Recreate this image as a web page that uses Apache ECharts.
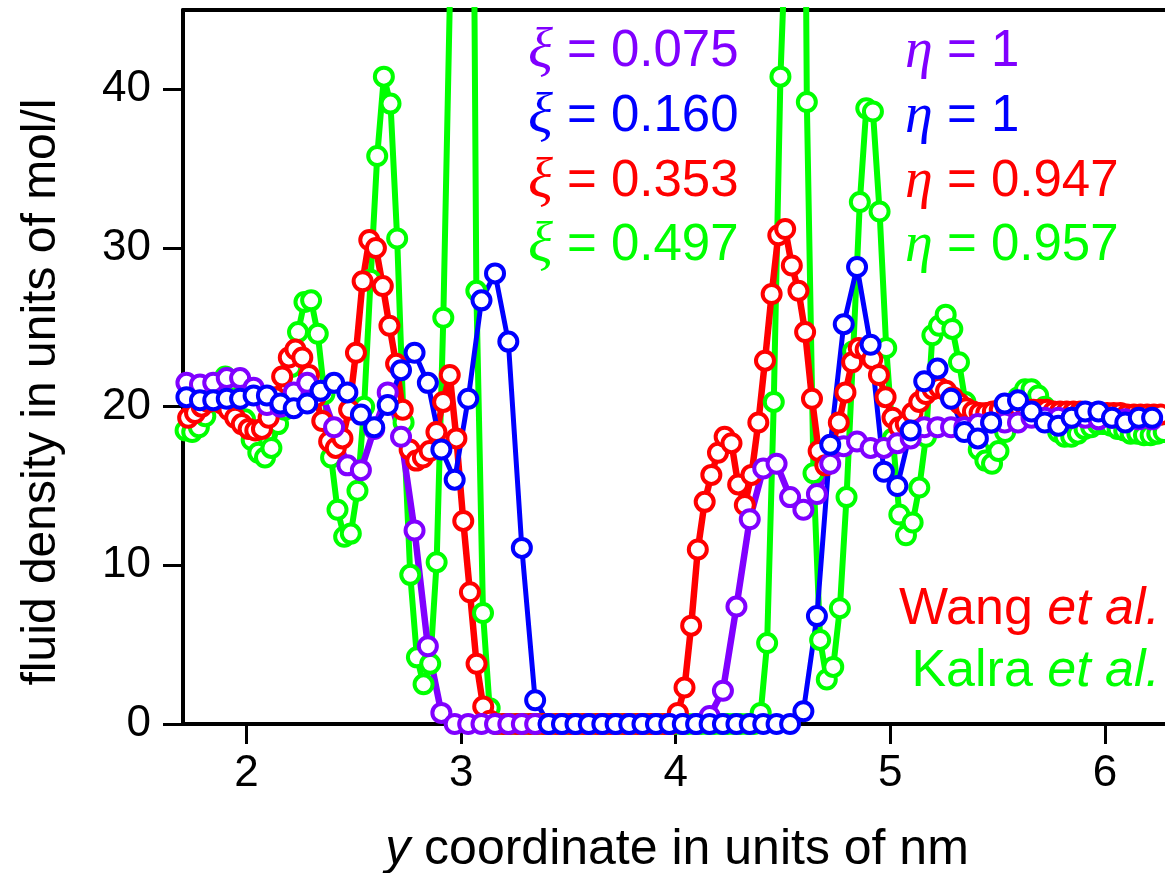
<!DOCTYPE html>
<html><head><meta charset="utf-8">
<script src="https://cdn.jsdelivr.net/npm/echarts@6/dist/echarts.min.js"></script>
<style>html,body{margin:0;padding:0;background:#fff}#c{width:1165px;height:873px}</style>
</head><body><div id="c"></div>
<script>
// x positions (nm) shared by the xi=0.075 and xi=0.160 series
const xPB = [1.720,1.783,1.845,1.908,1.970,2.033,2.095,2.158,2.220,2.283,2.345,2.408,2.470,2.533,2.595,2.658,2.720,2.783,2.845,2.908,2.970,3.033,3.095,3.158,3.220,3.283,3.345,3.408,3.470,3.533,3.595,3.658,3.720,3.783,3.845,3.908,3.970,4.033,4.095,4.158,4.220,4.283,4.345,4.408,4.470,4.533,4.595,4.658,4.720,4.783,4.845,4.908,4.970,5.033,5.095,5.158,5.220,5.283,5.345,5.408,5.470,5.533,5.595,5.658,5.720,5.783,5.845,5.908,5.970,6.033,6.095,6.158,6.220,6.283];
const yPurple = [21.5,21.4,21.5,21.8,21.8,21.2,20.1,20.0,20.9,21.5,
 21.0,18.7,16.3,16.0,18.6,20.9,18.1,12.2,4.9,0.7,
 0,0,0,0,0,0,0,0,0,0,0,0,0,0,0,0,0,0,0,
 0.5,2.1,7.4,12.9,16.1,16.4,14.3,13.5,14.5,16.4,
 17.5,17.8,17.4,17.4,17.7,18.0,18.7,18.7,18.7,18.7,
 18.9,19.0,19.0,19.0,19.3,19.3,19.3,19.3,19.3,19.2,
 19.3,19.2,19.2,19.2,19.2];
const yBlue = [20.6,20.4,20.4,20.5,20.5,20.7,20.7,20.2,19.9,20.2,
 21.0,21.5,20.9,19.5,18.7,20.1,22.3,23.4,21.5,17.3,
 15.4,20.5,26.7,28.4,24.1,11.1,1.5,0,
 0,0,0,0,0,0,0,0,0,0,0,0,0,0,0,0,0,0,
 0.8,6.8,17.6,25.2,28.8,23.9,15.9,15.0,18.5,21.6,
 22.4,20.5,18.4,18.0,19.0,20.2,20.4,19.7,19.0,18.8,
 19.3,19.7,19.7,19.3,19.0,19.3,19.3,19.3];
const xRed = [1.728,1.760,1.791,1.822,1.853,1.885,1.916,1.947,1.978,2.010,2.041,2.072,2.103,2.135,2.166,2.197,2.228,2.260,2.291,2.322,
 2.353,2.385,2.416,2.447,2.478,2.510,2.541,2.572,2.603,2.635,2.666,2.697,2.728,2.760,2.791,2.822,2.853,2.885,2.916,2.947,
 2.978,3.010,3.041,3.072,3.103,3.135,3.166,3.197,3.228,3.260,3.291,3.322,3.353,3.385,3.416,3.447,3.478,3.510,3.541,3.572,
 3.603,3.635,3.666,3.697,3.728,3.760,3.791,3.822,3.853,3.885,3.916,3.947,3.978,4.010,4.041,4.072,4.103,4.135,4.166,4.197,
 4.228,4.260,4.291,4.322,4.353,4.385,4.416,4.447,4.478,4.510,4.541,4.572,4.603,4.635,4.666,4.697,4.728,4.760,4.791,4.822,
 4.853,4.885,4.916,4.947,4.978,5.010,5.041,5.072,5.103,5.135,5.166,5.197,5.228,5.260,5.291,5.322,5.353,5.385,5.416,5.447,
 5.478,5.510,5.541,5.572,5.603,5.635,5.666,5.697,5.728,5.760,5.791,5.822,5.853,5.885,5.916,5.947,5.978,6.010,6.041,6.072,
 6.103,6.135,6.166,6.197,6.228,6.260,6.291];
const yRed = [19.3,19.6,20.0,20.3,20.5,20.2,19.8,19.3,18.9,18.6,
 18.5,18.6,19.3,20.6,21.9,23.1,23.6,23.1,22.0,20.6,
 19.1,17.8,17.4,18.0,19.8,23.4,27.9,30.5,30.0,27.6,
 25.1,22.7,19.8,17.3,16.6,16.8,17.2,18.4,20.3,22.0,
 18.0,12.8,8.3,3.8,1.1,0.2,
 0,0,0,0,0,0,0,0,0,0,0,0,0,0,0,0,0,0,0,0,0,0,0,0,0,0,0,
 0.7,2.3,6.2,11.0,14.0,15.7,17.1,
 18.1,17.7,15.1,13.8,15.7,19.0,22.9,27.1,30.8,31.2,
 28.9,27.3,24.7,20.5,17.2,16.3,17.6,19.0,20.9,22.8,
 23.7,23.6,23.0,22.0,20.6,19.3,18.7,18.9,19.6,20.3,
 20.8,21.1,21.2,21.0,20.6,20.2,19.9,19.7,19.6,19.6,
 19.7,19.8,19.9,19.9,19.9,19.8,19.8,19.8,19.8,19.7,
 19.7,19.7,19.7,19.7,19.6,19.6,19.6,19.6,19.6,19.6,
 19.5,19.5,19.5,19.5,19.5,19.5,19.5];
const xGreen = [1.716,1.747,1.778,1.808,1.839,1.870,1.901,1.932,1.962,1.993,
 2.024,2.055,2.086,2.116,2.147,2.178,2.209,2.240,2.270,2.301,
 2.332,2.363,2.394,2.424,2.455,2.486,2.517,2.548,2.578,2.609,
 2.640,2.671,2.702,2.732,2.763,2.794,2.825,2.856,2.886,2.917,
 2.948,2.979,3.010,3.040,3.071,3.102,3.133,3.164,3.194,3.225,
 3.256,3.287,3.318,3.348,3.379,3.410,3.441,3.472,3.502,3.533,
 3.564,3.595,3.626,3.656,3.687,3.718,3.749,3.780,3.810,3.841,
 3.872,3.903,3.934,3.964,3.995,4.026,4.057,4.088,4.118,4.149,
 4.180,4.211,4.242,4.272,4.303,4.334,4.365,4.396,4.426,4.457,
 4.488,4.519,4.550,4.580,4.611,4.642,4.673,4.704,4.734,4.765,
 4.796,4.827,4.858,4.888,4.919,4.950,4.981,5.012,5.042,5.073,
 5.104,5.135,5.166,5.196,5.227,5.258,5.289,5.320,5.350,5.381,
 5.412,5.443,5.474,5.504,5.535,5.566,5.597,5.628,5.658,5.689,
 5.720,5.751,5.782,5.812,5.843,5.874,5.905,5.936,5.966,5.997,
 6.028,6.059,6.090,6.120,6.151,6.182,6.213,6.244,6.274];
const yGreen = [18.5,18.4,18.7,19.4,20.6,21.5,21.9,21.6,20.6,19.2,
 17.9,17.1,16.8,17.4,18.9,19.8,22.5,24.7,26.6,26.7,
 24.6,20.8,16.8,13.5,11.8,12.0,14.7,20.0,28.0,35.8,
 40.8,39.1,30.6,19.0,9.4,4.2,2.5,3.8,10.2,25.6,
 46,85,95,90,27.3,7.0,1.0,
 0,0,0,0,0,0,0,0,0,0,0,0,0,0,0,0,0,0,0,0,
 0,0,0,0,0,0,0,0,0,0,0,0,0,0,0,0,0,0,0,0,
 0.7,5.1,20.3,40.8,52,105,100,39.2,15.8,5.3,
 2.8,3.6,7.3,14.3,23.5,32.9,38.8,38.6,32.3,23.7,
 18.0,13.2,11.9,12.7,14.9,18.1,24.5,25.1,25.8,24.9,
 22.8,20.3,18.5,17.3,16.6,16.4,17.2,18.4,19.6,20.6,
 21.1,21.1,20.7,20.0,19.1,18.4,18.1,18.1,18.3,18.6,
 18.7,18.9,18.9,18.8,18.6,18.5,18.3,18.3,18.2,18.2,18.3,18.4];
const xTicks = [2,3,4,5,6];
const yTicks = [0,10,20,30,40];
const xiLabels = ['0.075','0.160','0.353','0.497'];
const etaLabels = ['1','1','0.947','0.957'];
const sourceLabels = ['Wang','Kalra'];
const colors = ['#8000ff','#0000ff','#ff0000','#00ff00'];

const FONT = '"Liberation Sans", Arial, sans-serif';
const zip = (xs, ys) => xs.map((x, i) => [x, ys[i]]);
function mkSeries(data, color, lw) {
  return {
    type: 'line', data: data, symbol: 'circle', symbolSize: 18,
    lineStyle: {color: color, width: lw},
    itemStyle: {color: '#ffffff', borderColor: color, borderWidth: 4},
    emphasis: {disabled: true}, animation: false, clip: true
  };
}
const chart = echarts.init(document.getElementById('c'));
const graphics = [];
const rowY = [52, 117, 182, 246];
xiLabels.forEach((v, i) => {
  graphics.push({type: 'text', x: 528, y: rowY[i], style: {
    text: '{g|ξ}{t| = ' + v + '}', textVerticalAlign: 'middle', textAlign: 'left',
    rich: {g: {font: 'italic 58px "Liberation Serif", serif', fill: colors[i]},
           t: {font: '51px ' + FONT, fill: colors[i]}}}});
});
etaLabels.forEach((v, i) => {
  graphics.push({type: 'text', x: 905, y: rowY[i], style: {
    text: '{g|η}{t| = ' + v + '}', textVerticalAlign: 'middle', textAlign: 'left',
    rich: {g: {font: 'italic 56px "Liberation Serif", serif', fill: colors[i]},
           t: {font: '51px ' + FONT, fill: colors[i]}}}});
});
[['Wang', '#ff0000', 610], ['Kalra', '#00ff00', 672]].forEach(([n, c, y]) => {
  graphics.push({type: 'text', x: 1160, y: y, style: {
    text: '{a|' + n + ' }{b|et al.}', textAlign: 'right', textVerticalAlign: 'middle',
    rich: {a: {font: '52px ' + FONT, fill: c}, b: {font: 'italic 52px ' + FONT, fill: c}}}});
});
graphics.push({type: 'text', x: 677, y: 850, style: {
  text: '{a|y}{b| coordinate in units of nm}', textAlign: 'center', textVerticalAlign: 'middle',
  rich: {a: {font: 'italic 50px ' + FONT, fill: '#000'}, b: {font: '50px ' + FONT, fill: '#000'}}}});
graphics.push({type: 'text', x: 42, y: 392, rotation: Math.PI / 2, style: {
  text: 'fluid density in units of mol/l', textAlign: 'center', textVerticalAlign: 'middle',
  font: '48px ' + FONT, fill: '#000'}});

chart.setOption({
  animation: false,
  grid: {left: 183, top: 10, right: 0, bottom: 149},
  xAxis: [{
    type: 'value', min: 1.704, max: 6.28,
    axisLine: {lineStyle: {color: '#000', width: 4}},
    axisTick: {show: true, inside: false, length: 20, lineStyle: {color: '#000', width: 3}, customValues: xTicks},
    axisLabel: {customValues: xTicks, fontSize: 44, fontFamily: FONT, color: '#000', margin: 28},
    splitLine: {show: false}
  }, {
    type: 'value', position: 'top', min: 1.704, max: 6.28,
    axisLine: {lineStyle: {color: '#000', width: 4}},
    axisTick: {show: false}, axisLabel: {show: false}, splitLine: {show: false}
  }],
  yAxis: {
    type: 'value', min: 0, max: 45,
    axisLine: {show: true, lineStyle: {color: '#000', width: 4}},
    axisTick: {show: true, inside: false, length: 20, lineStyle: {color: '#000', width: 3}, customValues: yTicks},
    axisLabel: {customValues: yTicks, fontSize: 44, fontFamily: FONT, color: '#000', margin: 32},
    splitLine: {show: false}
  },
  graphic: graphics,
  series: [
    mkSeries(zip(xGreen, yGreen), '#00ff00', 6),
    mkSeries(zip(xRed, yRed), '#ff0000', 6.5),
    mkSeries(zip(xPB, yPurple), '#8000ff', 6.5),
    mkSeries(zip(xPB, yBlue), '#0000ff', 5)
  ]
});
</script></body></html>
